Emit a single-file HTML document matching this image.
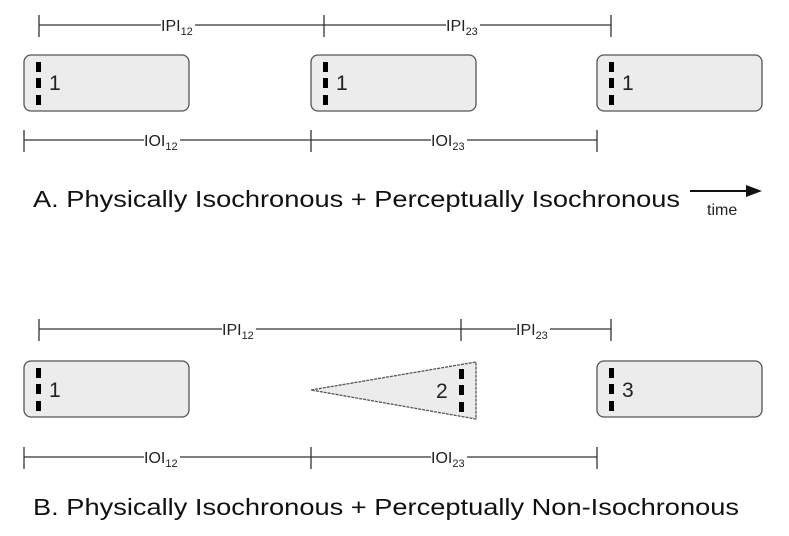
<!DOCTYPE html>
<html><head><meta charset="utf-8"><style>
html,body{margin:0;padding:0;background:#fff;}
svg{display:block;}
</style></head><body>
<svg width="789" height="536" viewBox="0 0 789 536" xmlns="http://www.w3.org/2000/svg" font-family="Liberation Sans, Arial, sans-serif">
<defs>
<g id="dash"><rect x="0" y="0" width="5" height="10" fill="#000"/><rect x="0" y="16" width="5" height="10" fill="#000"/><rect x="0" y="33" width="5" height="10" fill="#000"/></g>
</defs>
<g stroke="#333" stroke-width="1.3" fill="none">
<line x1="39" y1="25" x2="611" y2="25"/>
<line x1="39" y1="15" x2="39" y2="37"/><line x1="324" y1="15" x2="324" y2="37"/><line x1="611" y1="15" x2="611" y2="37"/>
<line x1="24" y1="140" x2="597" y2="140"/>
<line x1="24" y1="130" x2="24" y2="152"/><line x1="311" y1="130" x2="311" y2="152"/><line x1="597" y1="130" x2="597" y2="152"/>
<line x1="39" y1="329" x2="611" y2="329"/>
<line x1="39" y1="319" x2="39" y2="341"/><line x1="461" y1="319" x2="461" y2="341"/><line x1="611" y1="319" x2="611" y2="341"/>
<line x1="24" y1="457" x2="597" y2="457"/>
<line x1="24" y1="447" x2="24" y2="469"/><line x1="311" y1="447" x2="311" y2="469"/><line x1="597" y1="447" x2="597" y2="469"/>
</g>
<g fill="#fff">
<rect x="161" y="17" width="34" height="18"/><rect x="446" y="17" width="34" height="18"/>
<rect x="144" y="132" width="36" height="18"/><rect x="431" y="132" width="36" height="18"/>
<rect x="222" y="321" width="34" height="18"/><rect x="516" y="321" width="34" height="18"/>
<rect x="144" y="449" width="36" height="18"/><rect x="431" y="449" width="36" height="18"/>
</g>
<g font-size="16" fill="#222">
<text x="161" y="31">IPI<tspan font-size="11" dy="4">12</tspan></text>
<text x="446" y="31">IPI<tspan font-size="11" dy="4">23</tspan></text>
<text x="144" y="146">IOI<tspan font-size="11" dy="4">12</tspan></text>
<text x="431" y="146">IOI<tspan font-size="11" dy="4">23</tspan></text>
<text x="222" y="335">IPI<tspan font-size="11" dy="4">12</tspan></text>
<text x="516" y="335">IPI<tspan font-size="11" dy="4">23</tspan></text>
<text x="144" y="463">IOI<tspan font-size="11" dy="4">12</tspan></text>
<text x="431" y="463">IOI<tspan font-size="11" dy="4">23</tspan></text>
</g>
<g fill="#ececec" stroke="#555" stroke-width="1.3">
<rect x="24" y="55" width="165" height="56" rx="7"/>
<rect x="311" y="55" width="165" height="56" rx="7"/>
<rect x="597" y="55" width="165" height="56" rx="7"/>
<rect x="24" y="361" width="165" height="56" rx="7"/>
<polygon points="311,390 476,362 476,419" stroke-dasharray="3,1"/>
<rect x="597" y="361" width="165" height="56" rx="7"/>
</g>
<use href="#dash" x="36" y="62"/><use href="#dash" x="323" y="62"/><use href="#dash" x="609" y="62"/>
<use href="#dash" x="36" y="368"/><use href="#dash" x="459" y="369"/><use href="#dash" x="609" y="368"/>
<g font-size="21" fill="#222">
<text x="49" y="90">1</text><text x="336" y="90">1</text><text x="622" y="90">1</text>
<text x="49" y="397">1</text><text x="436" y="398">2</text><text x="622" y="397">3</text>
</g>
<text x="33" y="207" font-size="23" fill="#111" textLength="647" lengthAdjust="spacingAndGlyphs">A. Physically Isochronous + Perceptually Isochronous</text>
<text x="33" y="515" font-size="23" fill="#111" textLength="706" lengthAdjust="spacingAndGlyphs">B. Physically Isochronous + Perceptually Non-Isochronous</text>
<line x1="690" y1="191" x2="748" y2="191" stroke="#111" stroke-width="2"/>
<polygon points="746,185 762,191 746,197" fill="#111"/>
<text x="707" y="215" font-size="16" fill="#222">time</text>
</svg>
</body></html>
